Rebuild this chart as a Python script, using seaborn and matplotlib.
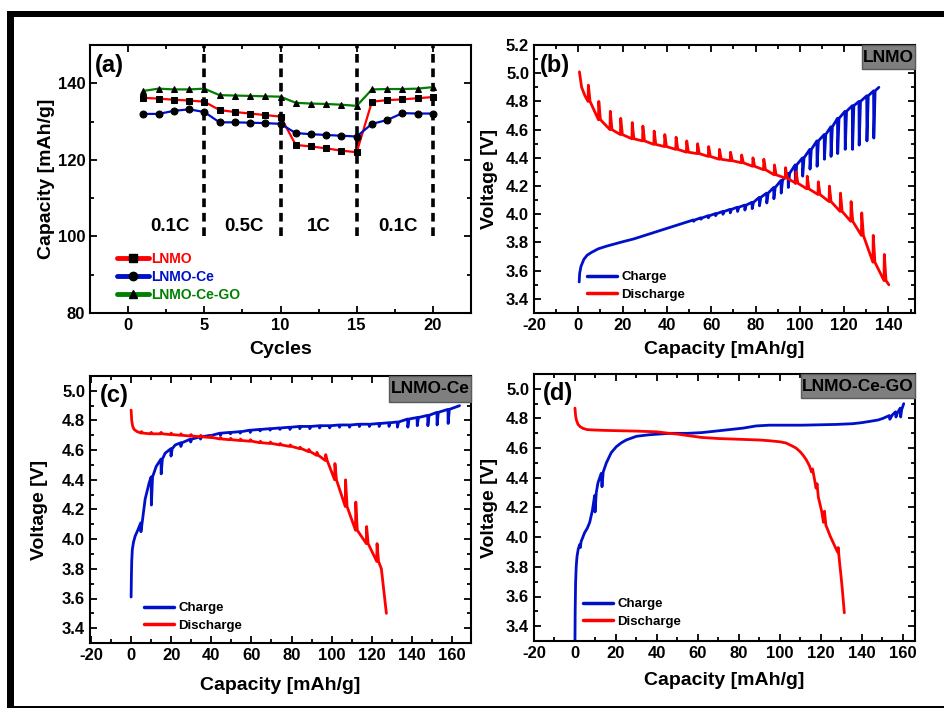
import numpy as np
import pandas as pd
import matplotlib
matplotlib.use("Agg")
import matplotlib.pyplot as plt
from matplotlib.lines import Line2D
from matplotlib.patches import Rectangle
from matplotlib.ticker import MultipleLocator, FormatStrFormatter
import seaborn as sns

nan = np.nan

# ---------------- (a) rate capability ----------------
cycles = list(range(1, 21))
cap_lnmo = [136.2, 136.0, 135.7, 135.5, 135.2, 133.0, 132.5, 132.1, 131.7, 131.3,
            123.9, 123.5, 123.0, 122.4, 122.0, 135.2, 135.6, 135.8, 136.1, 136.4]
cap_ce = [132.0, 132.0, 132.8, 133.2, 132.5, 129.8, 129.8, 129.7, 129.6, 129.4,
          127.0, 126.7, 126.5, 126.3, 126.1, 129.4, 130.4, 132.2, 132.1, 132.1]
cap_cego = [138.0, 138.6, 138.4, 138.4, 138.6, 136.9, 136.8, 136.7, 136.6, 136.5,
            134.9, 134.7, 134.6, 134.4, 134.1, 138.4, 138.5, 138.5, 138.6, 139.0]
series_names = ["LNMO", "LNMO-Ce", "LNMO-Ce-GO"]
rate_bounds = [5, 10, 15, 20]
rate_labels = ["0.1C", "0.5C", "1C", "0.1C"]
rate_label_x = [2.75, 7.6, 12.5, 17.7]

# ---------------- (b) LNMO ----------------
b_chg_cap = [0.4, 0.6, 1.2, 2.5, 4, 6, 9, 13, 20, 25, 30, 35, 40, 45, 49,
             52.0, 55.3, 58.6, 61.9, 65.2, 68.5, 71.8, 75.1, 78.4, 81.7,
             85.0, 88.2, 91.5, 94.7, 97.9, 101.2, 104.5, 107.7, 111.0, 114.0,
             117.0, 120.4, 123.7, 126.7, 130.2, 133.3, 135.7]
b_chg_v = [3.52, 3.58, 3.63, 3.68, 3.71, 3.73, 3.755, 3.775, 3.805, 3.825, 3.85, 3.875, 3.90, 3.925, 3.945,
           3.96, 3.975, 3.99, 4.005, 4.02, 4.035, 4.05, 4.065, 4.085, 4.12,
           4.15, 4.19, 4.24, 4.29, 4.35, 4.40, 4.46, 4.52, 4.565, 4.62,
           4.68, 4.73, 4.77, 4.80, 4.84, 4.875, 4.90]
b_chg_dip = [nan] * 15 + [3.95, 3.965, 3.975, 3.99, 4.0, 4.01, 4.02, 4.03, 4.04, 4.06,
                          4.08, 4.11, 4.15, 4.19, 4.22, 4.27, 4.32, 4.34, 4.39, 4.41,
                          4.43, 4.46, 4.46, 4.49, 4.52, 4.54] + [nan]
b_dis_cap = [0.5, 1.5, 3.0, 4.4, 9.1, 14.3, 19.0, 24.2, 29.0, 34.1, 38.9, 44.0, 48.8,
             53.7, 58.7, 63.6, 68.6, 73.6, 78.7, 83.6, 88.4, 93.4, 98.2,
             103.2, 108.2, 113.2, 118.2, 123.0, 127.8, 133.0, 138.0, 140.2]
b_dis_v = [5.01, 4.90, 4.84, 4.80, 4.67, 4.60, 4.565, 4.535, 4.52, 4.495, 4.48, 4.46, 4.44,
           4.43, 4.41, 4.39, 4.38, 4.365, 4.34, 4.316, 4.28, 4.256, 4.22,
           4.18, 4.14, 4.09, 4.02, 3.95, 3.85, 3.66, 3.53, 3.50]
b_dis_spike = [nan, nan, nan, 4.915, 4.80, 4.73, 4.68, 4.65, 4.625, 4.59, 4.565, 4.546, 4.52,
               4.50, 4.48, 4.46, 4.44, 4.42, 4.40, 4.39, 4.35, 4.33, 4.30,
               4.27, 4.23, 4.20, 4.15, 4.09, 4.01, 3.85, 3.715, nan]

# ---------------- (c) LNMO-Ce ----------------
c_chg_cap = [0.0, 0.15, 0.3, 0.6, 1.2, 2.0, 3.3, 4.8, 7.0, 9.0, 10.0, 12.5, 14.9, 17.0, 19.8, 22.0,
             24.7, 29.6, 34.5, 39.5, 44.4, 49.4, 54.3, 59.3, 64.2, 69.2,
             74.1, 79.1, 84.0, 89.0, 93.9, 98.9, 103.8, 108.8, 113.7, 118.7,
             123.6, 128.5, 132.7, 137.9, 142.6, 147.9, 152.5, 158.0, 163.8]
c_chg_v = [3.61, 3.75, 3.85, 3.93, 3.98, 4.02, 4.06, 4.11, 4.27, 4.38, 4.42, 4.49, 4.54, 4.58, 4.61, 4.635,
           4.65, 4.675, 4.69, 4.70, 4.715, 4.72, 4.725, 4.735, 4.74, 4.745,
           4.75, 4.755, 4.76, 4.76, 4.765, 4.765, 4.77, 4.77, 4.775, 4.775,
           4.78, 4.785, 4.79, 4.81, 4.82, 4.835, 4.855, 4.875, 4.90]
c_chg_dip = [nan] * 7 + [4.05, nan, nan, 4.23, nan, 4.44, nan, 4.56, nan,
                         4.625, 4.655, 4.675, 4.69, 4.70, 4.71, 4.715, 4.72, 4.73, 4.735,
                         4.74, 4.74, 4.745, 4.745, 4.75, 4.75, 4.755, 4.755, 4.76, 4.76,
                         4.76, 4.76, 4.755, 4.755, 4.765, 4.765, 4.77, 4.78] + [nan]
c_dis_cap = [0.0, 0.3, 0.8, 1.5, 3.0,
             5.0, 9.9, 14.8, 19.8, 24.7, 29.7, 34.6, 39.6, 44.5, 49.5,
             54.4, 59.4, 64.3, 69.3, 74.2, 79.2, 84.1, 88.5, 92.5, 96.9,
             101.5, 106.8, 111.9, 117.3, 122.5, 124.8, 127.3]
c_dis_v = [4.87, 4.80, 4.76, 4.74, 4.725,
           4.715, 4.71, 4.71, 4.705, 4.70, 4.695, 4.69, 4.685, 4.675, 4.67,
           4.665, 4.66, 4.65, 4.645, 4.635, 4.625, 4.61, 4.59, 4.565, 4.53,
           4.40, 4.22, 4.06, 3.97, 3.85, 3.80, 3.50]
c_dis_spike = [nan, nan, nan, nan, nan,
               4.725, 4.72, 4.72, 4.715, 4.71, 4.705, 4.70, 4.695, 4.685, 4.68,
               4.675, 4.67, 4.66, 4.655, 4.645, 4.635, 4.62, 4.605, 4.585, 4.57,
               4.51, 4.40, 4.25, 4.085, 3.97, nan, nan]

# ---------------- (d) LNMO-Ce-GO ----------------
d_chg_cap = [0.0, 0.1, 0.3, 0.6, 1.0, 1.6, 2.3, 2.6, 3.0, 4.7, 6.0, 7.2, 8.5, 9.6, 9.8, 10.4,
             11.2, 12.8, 13.2, 13.8, 15.3, 17.7, 20.2, 22.5, 25, 30, 36, 46, 55, 62,
             72, 82, 88.5, 95, 111, 127.5, 135.6, 140, 143.7, 148, 150.2, 153.5, 153.7,
             155, 156.5, 156.7, 157.5, 158.8, 159.0, 159.5, 160.5]
d_chg_v = [3.30, 3.50, 3.69, 3.80, 3.87, 3.92, 3.95, 3.93, 3.97, 4.03, 4.06, 4.10, 4.18, 4.28, 4.17, 4.30,
           4.365, 4.43, 4.34, 4.44, 4.50, 4.57, 4.61, 4.635, 4.655, 4.68, 4.69, 4.70, 4.70, 4.705,
           4.72, 4.735, 4.75, 4.755, 4.755, 4.76, 4.765, 4.772, 4.78, 4.79, 4.80, 4.82, 4.795,
           4.825, 4.845, 4.81, 4.84, 4.87, 4.81, 4.86, 4.90]
d_dis_cap = [0.0, 0.3, 0.7, 1.5, 2.5, 4, 6, 10, 14, 20, 30, 40, 46, 50, 55, 62, 70, 80, 90, 95,
             100, 103, 106, 108, 110, 111.5, 113, 114.5, 115.5, 116.0, 116.8, 117.7, 118.2,
             118.8, 119.5, 120.5, 121.3, 121.8, 122.5, 123.4, 124.5, 125.5, 126.5, 127.5,
             128.2, 128.5, 129.1, 129.8, 130.5, 131.5]
d_dis_v = [4.87, 4.82, 4.79, 4.76, 4.745, 4.733, 4.725, 4.722, 4.72, 4.718, 4.715, 4.71, 4.70,
           4.695, 4.685, 4.672, 4.665, 4.66, 4.655, 4.65, 4.643, 4.635, 4.615, 4.60, 4.575,
           4.55, 4.52, 4.48, 4.44, 4.46, 4.40, 4.33, 4.36, 4.27, 4.23, 4.17, 4.10, 4.175,
           4.08, 4.05, 4.01, 3.98, 3.95, 3.92, 3.90, 3.93, 3.84, 3.75, 3.65, 3.49]

legend_cd = ["Charge", "Discharge"]
panel_names = ["LNMO", "LNMO-Ce", "LNMO-Ce-GO"]

RED = "#FF0000"
BLUE = "#0010C8"
GREEN = "#008000"


def build_path(cap, volt, exc=None, dx_exc=0.1, dx_back=0.8):
    """Assemble a drawing path from read points; excursions are vertical steps."""
    xs, vs = [], []
    if exc is None:
        exc = [nan] * len(cap)
    for c, v, e in zip(cap, volt, exc):
        xs.append(c)
        vs.append(v)
        if not np.isnan(e):
            xs += [c + dx_exc, c + dx_back]
            vs += [e, v]
    return pd.DataFrame({"cap": xs, "volt": vs})


sns.set_theme(style="ticks")
plt.rcParams["font.family"] = ["Liberation Sans", "DejaVu Sans"]
plt.rcParams["font.weight"] = "bold"
plt.rcParams["axes.labelweight"] = "bold"
plt.rcParams["axes.unicode_minus"] = False
plt.rcParams["axes.linewidth"] = 1.5
plt.rcParams["axes.edgecolor"] = "black"
plt.rcParams["xtick.color"] = "black"
plt.rcParams["ytick.color"] = "black"
plt.rcParams["text.color"] = "black"
plt.rcParams["axes.labelcolor"] = "black"

W, H = 944, 709
fig = plt.figure(figsize=(W / 100, H / 100), dpi=100)


def px_axes(left, top, right, bottom):
    return fig.add_axes([left / W, 1 - bottom / H, (right - left) / W, (bottom - top) / H])


axA = px_axes(90, 45, 471, 313)
axB = px_axes(534, 45, 915, 313)
axC = px_axes(90, 376, 471, 643)
axD = px_axes(534, 374, 915, 641)


def style_axis(ax, xmaj, xmin, ymaj, ymin):
    ax.xaxis.set_major_locator(MultipleLocator(xmaj))
    ax.xaxis.set_minor_locator(MultipleLocator(xmin))
    ax.yaxis.set_major_locator(MultipleLocator(ymaj))
    ax.yaxis.set_minor_locator(MultipleLocator(ymin))
    ax.tick_params(which="both", direction="in", top=True, right=True, width=1.3)
    ax.tick_params(which="major", length=5, labelsize=12, pad=3.5)
    ax.tick_params(which="minor", length=3)
    for s in ax.spines.values():
        s.set_visible(True)
        s.set_linewidth(1.5)
        s.set_color("black")


# ---------- panel (a) ----------
dfa = pd.DataFrame({
    "cycle": cycles * 3,
    "capacity": cap_lnmo + cap_ce + cap_cego,
    "sample": [series_names[0]] * 20 + [series_names[1]] * 20 + [series_names[2]] * 20,
})
pal = {series_names[0]: RED, series_names[1]: BLUE, series_names[2]: GREEN}
mk = {series_names[0]: "s", series_names[1]: "o", series_names[2]: "^"}
axA.vlines(rate_bounds, 100, 150, colors="black", linewidth=2.6,
           linestyles=[(0, (2.4, 1.6))], zorder=1)
sns.lineplot(data=dfa, x="cycle", y="capacity", hue="sample", style="sample",
             palette=pal, markers=mk, dashes=False, linewidth=1.6, markersize=5,
             markerfacecolor="black", markeredgecolor="black",
             legend=False, ax=axA, zorder=3)
axA.set_xlim(-2.5, 22.5)
axA.set_ylim(80, 150)
style_axis(axA, 5, 2.5, 20, 10)
axA.set_xlabel("Cycles", fontsize=14, fontweight="bold", labelpad=6)
axA.set_ylabel("Capacity [mAh/g]", fontsize=14, fontweight="bold", labelpad=2)
for xl, tl in zip(rate_label_x, rate_labels):
    axA.text(xl, 102.6, tl, ha="center", va="center", fontsize=13.5, fontweight="bold")
axA.text(0.012, 0.965, "(a)", transform=axA.transAxes, ha="left", va="top",
         fontsize=17, fontweight="bold")
hA = [Line2D([], [], color=pal[n], lw=3.5, marker=mk[n], markersize=6,
             markerfacecolor="black", markeredgecolor="black") for n in series_names]
legA = axA.legend(hA, series_names, loc="lower left", bbox_to_anchor=(0.07, 0.04),
                  frameon=False, borderpad=0, borderaxespad=0, handlelength=2.3,
                  handletextpad=0.15, labelspacing=0.3,
                  prop={"size": 10, "weight": "bold"})
for t, n in zip(legA.get_texts(), series_names):
    t.set_color(pal[n])


# ---------- panels (b), (c), (d) ----------
def gcd_panel(ax, chg, dis, xlim, ylim, letter, name, box_x0, box_y0,
              xlabelpad, ylabelpad, leg_anchor, let_xy):
    sns.lineplot(data=chg, x="cap", y="volt", sort=False, estimator=None,
                 color=BLUE, linewidth=2.0, ax=ax)
    sns.lineplot(data=dis, x="cap", y="volt", sort=False, estimator=None,
                 color=RED, linewidth=2.0, ax=ax)
    ax.set_xlim(*xlim)
    ax.set_ylim(*ylim)
    style_axis(ax, 20, 10, 0.2, 0.1)
    ax.yaxis.set_major_formatter(FormatStrFormatter("%.1f"))
    ax.set_xlabel("Capacity [mAh/g]", fontsize=14, fontweight="bold", labelpad=xlabelpad)
    ax.set_ylabel("Voltage [V]", fontsize=14, fontweight="bold", labelpad=ylabelpad)
    ax.text(let_xy[0], let_xy[1], letter, transform=ax.transAxes, ha="left", va="top",
            fontsize=17, fontweight="bold")
    ax.add_patch(Rectangle((box_x0, box_y0), 1 - box_x0, 1 - box_y0, transform=ax.transAxes,
                           facecolor="#7f7f7f", edgecolor="#5a5a5a", linewidth=1.0,
                           zorder=5, clip_on=False))
    ax.text((box_x0 + 1) / 2, (box_y0 + 1) / 2, name, transform=ax.transAxes,
            ha="center", va="center", fontsize=12.5, fontweight="bold", zorder=6)
    h = [Line2D([], [], color=BLUE, lw=2.5), Line2D([], [], color=RED, lw=2.5)]
    ax.legend(h, legend_cd, loc="lower left", bbox_to_anchor=leg_anchor, frameon=False,
              borderpad=0, borderaxespad=0, handlelength=2.3, handletextpad=0.3,
              labelspacing=0.4, prop={"size": 9.5, "weight": "bold"})


chgB = build_path(b_chg_cap, b_chg_v, b_chg_dip, 0.1, 0.7)
disB = build_path(b_dis_cap, b_dis_v, b_dis_spike, 0.15, 0.9)
gcd_panel(axB, chgB, disB, (-20, 152), (3.3, 5.2), "(b)", panel_names[0], 0.86, 0.909,
          6, 6, (0.139, 0.045), (0.016, 0.965))

chgC = build_path(c_chg_cap, c_chg_v, c_chg_dip, 0.1, 0.7)
disC = build_path(c_dis_cap, c_dis_v, c_dis_spike, 0.15, 0.9)
gcd_panel(axC, chgC, disC, (-20.5, 169.5), (3.3, 5.1), "(c)", panel_names[1], 0.785, 0.904,
          10, 10, (0.142, 0.042), (0.026, 0.97))

chgD = build_path(d_chg_cap, d_chg_v)
disD = build_path(d_dis_cap, d_dis_v)
gcd_panel(axD, chgD, disD, (-20, 166), (3.3, 5.1), "(d)", panel_names[2], 0.701, 0.909,
          8, 6, (0.128, 0.05), (0.024, 0.97))

# ---------- outer frame ----------
fig.add_artist(Rectangle((7 / W, 1 - 17 / H), 1 - 7 / W, 6 / H, transform=fig.transFigure,
                         facecolor="black", edgecolor="none"))
fig.add_artist(Rectangle((7 / W, 1 - 708 / H), 7 / W, (708 - 11) / H, transform=fig.transFigure,
                         facecolor="black", edgecolor="none"))
fig.add_artist(Rectangle((7 / W, 1 - 708 / H), 1 - 7 / W, 2 / H, transform=fig.transFigure,
                         facecolor="black", edgecolor="none"))

fig.savefig("out.png", dpi=100)
